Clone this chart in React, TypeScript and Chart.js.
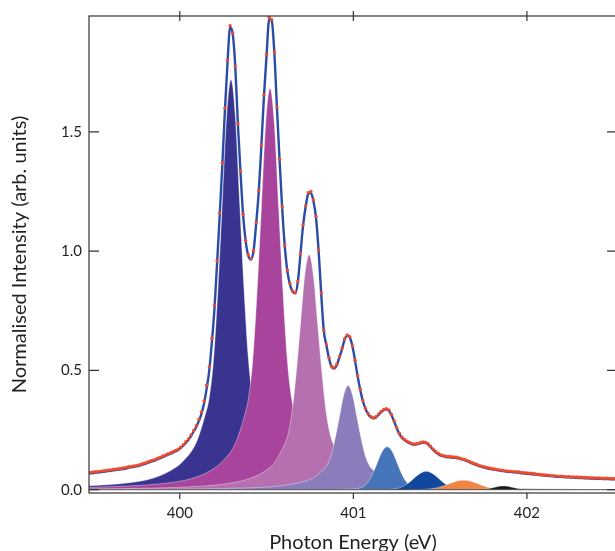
import React, { useEffect, useRef } from "react";
import { Chart, registerables } from "chart.js";

Chart.register(...registerables);

// Photon energy grid (eV)
const ENERGY = [
  399.48, 399.495, 399.51, 399.525, 399.54, 399.555, 399.57, 399.585, 399.6, 399.615,
  399.63, 399.645, 399.66, 399.675, 399.69, 399.705, 399.72, 399.735, 399.75, 399.765,
  399.78, 399.795, 399.81, 399.825, 399.84, 399.855, 399.87, 399.885, 399.9, 399.915,
  399.93, 399.945, 399.96, 399.975, 399.99, 400.005, 400.02, 400.035, 400.05, 400.065,
  400.08, 400.095, 400.11, 400.125, 400.14, 400.155, 400.17, 400.185, 400.2, 400.215,
  400.23, 400.245, 400.26, 400.275, 400.29, 400.305, 400.32, 400.335, 400.35, 400.365,
  400.38, 400.395, 400.41, 400.425, 400.44, 400.455, 400.47, 400.485, 400.5, 400.515,
  400.53, 400.545, 400.56, 400.575, 400.59, 400.605, 400.62, 400.635, 400.65, 400.665,
  400.68, 400.695, 400.71, 400.725, 400.74, 400.755, 400.77, 400.785, 400.8, 400.815,
  400.83, 400.845, 400.86, 400.875, 400.89, 400.905, 400.92, 400.935, 400.95, 400.965,
  400.98, 400.995, 401.01, 401.025, 401.04, 401.055, 401.07, 401.085, 401.1, 401.115,
  401.13, 401.145, 401.16, 401.175, 401.19, 401.205, 401.22, 401.235, 401.25, 401.265,
  401.28, 401.295, 401.31, 401.325, 401.34, 401.355, 401.37, 401.385, 401.4, 401.415,
  401.43, 401.445, 401.46, 401.475, 401.49, 401.505, 401.52, 401.535, 401.55, 401.565,
  401.58, 401.595, 401.61, 401.625, 401.64, 401.655, 401.67, 401.685, 401.7, 401.715,
  401.73, 401.745, 401.76, 401.775, 401.79, 401.805, 401.82, 401.835, 401.85, 401.865,
  401.88, 401.895, 401.91, 401.925, 401.94, 401.955, 401.97, 401.985, 402.0, 402.015,
  402.03, 402.045, 402.06, 402.075, 402.09, 402.105, 402.12, 402.135, 402.15, 402.165,
  402.18, 402.195, 402.21, 402.225, 402.24, 402.255, 402.27, 402.285, 402.3, 402.315,
  402.33, 402.345, 402.36, 402.375, 402.39, 402.405, 402.42, 402.435, 402.45, 402.465,
  402.48, 402.495, 402.51,
];

// Measured intensity (red dots)
const MEASURED = [
  0.072, 0.073, 0.075, 0.076, 0.077, 0.079, 0.08, 0.082, 0.083, 0.085,
  0.086, 0.088, 0.089, 0.091, 0.093, 0.096, 0.098, 0.1, 0.102, 0.104,
  0.108, 0.111, 0.115, 0.119, 0.123, 0.126, 0.131, 0.135, 0.14, 0.145,
  0.15, 0.154, 0.159, 0.165, 0.17, 0.178, 0.189, 0.201, 0.213, 0.23,
  0.248, 0.268, 0.295, 0.326, 0.372, 0.438, 0.515, 0.635, 0.775, 0.96,
  1.16, 1.37, 1.6, 1.8, 1.945, 1.915, 1.775, 1.535, 1.335, 1.155,
  1.045, 0.985, 0.968, 1.003, 1.12, 1.255, 1.445, 1.655, 1.825, 1.98,
  1.97, 1.835, 1.605, 1.385, 1.185, 1.025, 0.92, 0.864, 0.833, 0.826,
  0.873, 0.99, 1.11, 1.19, 1.245, 1.25, 1.215, 1.145, 1.005, 0.825,
  0.668, 0.608, 0.553, 0.518, 0.511, 0.526, 0.558, 0.593, 0.633, 0.649,
  0.641, 0.603, 0.543, 0.478, 0.421, 0.374, 0.342, 0.32, 0.307, 0.302,
  0.306, 0.317, 0.328, 0.336, 0.34, 0.334, 0.315, 0.289, 0.261, 0.237,
  0.221, 0.211, 0.203, 0.198, 0.193, 0.192, 0.194, 0.197, 0.2, 0.199,
  0.193, 0.182, 0.17, 0.16, 0.152, 0.146, 0.143, 0.14, 0.139, 0.138,
  0.137, 0.136, 0.133, 0.13, 0.127, 0.123, 0.118, 0.113, 0.109, 0.105,
  0.101, 0.098, 0.095, 0.092, 0.09, 0.088, 0.086, 0.084, 0.082, 0.081,
  0.079, 0.078, 0.077, 0.076, 0.075, 0.074, 0.072, 0.071, 0.07, 0.069,
  0.068, 0.067, 0.065, 0.064, 0.063, 0.062, 0.061, 0.06, 0.059, 0.058,
  0.057, 0.057, 0.056, 0.055, 0.055, 0.054, 0.054, 0.053, 0.052, 0.052,
  0.051, 0.051, 0.05, 0.05, 0.049, 0.049, 0.049, 0.048, 0.048, 0.048,
  0.047, 0.047, 0.047,
];

// Fitted envelope (blue line)
const FIT = [
  0.068, 0.069, 0.071, 0.072, 0.073, 0.075, 0.076, 0.078, 0.079, 0.081,
  0.082, 0.084, 0.085, 0.087, 0.089, 0.092, 0.094, 0.096, 0.098, 0.1,
  0.104, 0.107, 0.111, 0.115, 0.119, 0.122, 0.127, 0.131, 0.136, 0.141,
  0.146, 0.15, 0.155, 0.161, 0.166, 0.174, 0.185, 0.197, 0.209, 0.226,
  0.244, 0.263, 0.289, 0.318, 0.362, 0.425, 0.5, 0.62, 0.76, 0.95,
  1.15, 1.36, 1.59, 1.79, 1.938, 1.912, 1.77, 1.53, 1.33, 1.15,
  1.04, 0.98, 0.965, 1.0, 1.115, 1.25, 1.44, 1.65, 1.82, 1.972,
  1.965, 1.83, 1.6, 1.38, 1.18, 1.02, 0.915, 0.86, 0.83, 0.823,
  0.87, 0.985, 1.105, 1.185, 1.24, 1.245, 1.21, 1.14, 1.0, 0.82,
  0.665, 0.605, 0.55, 0.515, 0.508, 0.523, 0.555, 0.59, 0.63, 0.646,
  0.638, 0.6, 0.54, 0.475, 0.418, 0.371, 0.339, 0.317, 0.304, 0.299,
  0.303, 0.314, 0.325, 0.333, 0.337, 0.331, 0.312, 0.286, 0.258, 0.234,
  0.218, 0.208, 0.2, 0.195, 0.19, 0.189, 0.191, 0.194, 0.197, 0.196,
  0.19, 0.179, 0.167, 0.157, 0.149, 0.143, 0.14, 0.137, 0.136, 0.135,
  0.134, 0.133, 0.13, 0.127, 0.124, 0.12, 0.115, 0.11, 0.106, 0.102,
  0.098, 0.095, 0.092, 0.089, 0.087, 0.085, 0.083, 0.081, 0.079, 0.078,
  0.076, 0.075, 0.074, 0.073, 0.072, 0.071, 0.069, 0.068, 0.067, 0.066,
  0.065, 0.064, 0.062, 0.061, 0.06, 0.059, 0.058, 0.057, 0.056, 0.055,
  0.054, 0.054, 0.053, 0.052, 0.052, 0.051, 0.051, 0.05, 0.049, 0.049,
  0.048, 0.048, 0.047, 0.047, 0.046, 0.046, 0.046, 0.045, 0.045, 0.045,
  0.044, 0.044, 0.044,
];

// Fitted peak components
const P1_ENERGY = [399.47, 399.695, 399.845, 399.945, 400.02, 400.095, 400.145, 400.17, 400.195, 400.22, 400.245, 400.27, 400.295, 400.32, 400.345, 400.37, 400.395, 400.42, 400.445, 400.495, 400.57, 400.645, 400.745, 400.895, 401.195, 401.595, 402.095, 402.53];
const P1_INTENSITY = [0.016, 0.028, 0.048, 0.079, 0.12, 0.198, 0.31, 0.387, 0.55, 0.843, 1.204, 1.565, 1.72, 1.565, 1.204, 0.843, 0.55, 0.387, 0.31, 0.198, 0.12, 0.079, 0.048, 0.028, 0.0117, 0.0057, 0.0031, 0.0021];

const P2_ENERGY = [399.47, 399.92, 400.07, 400.17, 400.245, 400.32, 400.37, 400.395, 400.42, 400.445, 400.47, 400.495, 400.52, 400.545, 400.57, 400.595, 400.62, 400.645, 400.67, 400.72, 400.795, 400.87, 400.97, 401.12, 401.42, 401.82, 402.32, 402.53];
const P2_INTENSITY = [0.009, 0.027, 0.047, 0.077, 0.118, 0.194, 0.303, 0.379, 0.539, 0.825, 1.178, 1.532, 1.683, 1.532, 1.178, 0.825, 0.539, 0.379, 0.303, 0.194, 0.118, 0.077, 0.047, 0.027, 0.0114, 0.0056, 0.003, 0.0025];

const P3_ENERGY = [399.47, 399.845, 400.145, 400.295, 400.395, 400.47, 400.545, 400.595, 400.62, 400.645, 400.67, 400.695, 400.72, 400.745, 400.77, 400.795, 400.82, 400.845, 400.87, 400.895, 400.945, 401.02, 401.095, 401.195, 401.345, 401.645, 402.045, 402.53];
const P3_INTENSITY = [0.0034, 0.0067, 0.016, 0.028, 0.045, 0.069, 0.113, 0.177, 0.222, 0.316, 0.483, 0.69, 0.897, 0.986, 0.897, 0.69, 0.483, 0.316, 0.222, 0.177, 0.113, 0.069, 0.045, 0.028, 0.016, 0.0067, 0.0033, 0.0018];

const P4_ENERGY = [399.47, 399.67, 400.07, 400.37, 400.52, 400.62, 400.695, 400.77, 400.82, 400.845, 400.87, 400.895, 400.92, 400.945, 400.97, 400.995, 401.02, 401.045, 401.07, 401.095, 401.12, 401.17, 401.245, 401.32, 401.42, 401.57, 401.87, 402.27, 402.53];
const P4_INTENSITY = [0.0012, 0.0014, 0.003, 0.007, 0.012, 0.02, 0.031, 0.05, 0.079, 0.098, 0.14, 0.214, 0.306, 0.398, 0.437, 0.398, 0.306, 0.214, 0.14, 0.098, 0.079, 0.05, 0.031, 0.02, 0.012, 0.007, 0.003, 0.0014, 0.0011];

const P5_ENERGY = [399.47, 400.195, 400.695, 400.895, 400.995, 401.045, 401.07, 401.095, 401.12, 401.145, 401.17, 401.195, 401.22, 401.245, 401.27, 401.295, 401.32, 401.345, 401.395, 401.495, 401.695, 402.195, 402.53];
const P5_INTENSITY = [0.0001, 0.0001, 0.0004, 0.0011, 0.0027, 0.009, 0.02, 0.044, 0.081, 0.126, 0.165, 0.18, 0.165, 0.126, 0.081, 0.044, 0.02, 0.009, 0.0027, 0.0011, 0.0004, 0.0001, 0.0001];

const P6_ENERGY = [400.92, 401.12, 401.17, 401.22, 401.245, 401.27, 401.295, 401.32, 401.345, 401.37, 401.395, 401.42, 401.445, 401.47, 401.495, 401.52, 401.545, 401.57, 401.595, 401.62, 401.67, 401.72, 401.92];
const P6_INTENSITY = [0.0001, 0.0003, 0.0005, 0.0017, 0.0041, 0.0089, 0.0172, 0.0295, 0.0449, 0.0606, 0.0724, 0.077, 0.0724, 0.0606, 0.0449, 0.0295, 0.0172, 0.0089, 0.0041, 0.0017, 0.0005, 0.0003, 0.0001];

const P7_ENERGY = [401.335, 401.385, 401.435, 401.46, 401.485, 401.51, 401.535, 401.56, 401.585, 401.61, 401.635, 401.66, 401.685, 401.71, 401.735, 401.76, 401.785, 401.81, 401.835, 401.885, 401.935];
const P7_INTENSITY = [0.0001, 0.0005, 0.0025, 0.0048, 0.0084, 0.0136, 0.02, 0.0272, 0.0336, 0.0386, 0.04, 0.0386, 0.0336, 0.0272, 0.02, 0.0136, 0.0084, 0.0048, 0.0025, 0.0005, 0.0001];

const P8_ENERGY = [401.665, 401.715, 401.74, 401.765, 401.79, 401.815, 401.84, 401.865, 401.89, 401.915, 401.94, 401.965, 401.99, 402.015, 402.065];
const P8_INTENSITY = [0, 0.0004, 0.0012, 0.003, 0.0064, 0.0106, 0.0144, 0.016, 0.0144, 0.0106, 0.0064, 0.003, 0.0012, 0.0004, 0];

const PEAK_COLORS = ["#3a3491", "#a8449b", "#b571af", "#8b7cbc", "#4574b9", "#11489d", "#f08646", "#1a1a1a"];

const X_TICKS = [400, 401, 402];
const Y_TICKS = [0, 0.5, 1.0, 1.5];
const X_RANGE = [399.477, 402.519];
const Y_RANGE = [-0.0138, 1.986];
const X_TITLE = "Photon Energy (eV)";
const Y_TITLE = "Normalised Intensity (arb. units)";

const FONT = "Lato, 'Open Sans', sans-serif";
const TEXT = "#231f20";

function zip(xs: number[], ys: number[]) {
  return xs.map((x, i) => ({ x, y: ys[i] }));
}

const framePlugin = {
  id: "frame",
  afterDatasetsDraw(chart: any) {
    const { ctx, chartArea } = chart;
    const y0 = chart.scales.y.getPixelForValue(0);
    ctx.save();
    ctx.strokeStyle = "#555";
    ctx.lineWidth = 1;
    ctx.beginPath();
    ctx.moveTo(chartArea.left, y0);
    ctx.lineTo(chartArea.right, y0);
    ctx.stroke();
    ctx.restore();
  },
  afterDraw(chart: any) {
    const { ctx, chartArea } = chart;
    const { left, right, top, bottom } = chartArea;
    const xs = chart.scales.x;
    const ys = chart.scales.y;
    ctx.save();
    ctx.strokeStyle = "#333";
    ctx.lineWidth = 1.2;
    ctx.strokeRect(left, top, right - left, bottom - top);
    ctx.beginPath();
    for (const v of Y_TICKS) {
      const py = ys.getPixelForValue(v);
      ctx.moveTo(left, py);
      ctx.lineTo(left + 10, py);
      ctx.moveTo(right - 10, py);
      ctx.lineTo(right, py);
    }
    for (const v of X_TICKS) {
      const px = xs.getPixelForValue(v);
      ctx.moveTo(px, top - 5);
      ctx.lineTo(px, top + 5);
      ctx.moveTo(px, bottom);
      ctx.lineTo(px, bottom + 6);
    }
    ctx.stroke();
    ctx.restore();
  },
};

export default function App() {
  const ref = useRef<HTMLCanvasElement | null>(null);

  useEffect(() => {
    const canvas = ref.current;
    if (!canvas) return;
    const peaks = [
      [P1_ENERGY, P1_INTENSITY],
      [P2_ENERGY, P2_INTENSITY],
      [P3_ENERGY, P3_INTENSITY],
      [P4_ENERGY, P4_INTENSITY],
      [P5_ENERGY, P5_INTENSITY],
      [P6_ENERGY, P6_INTENSITY],
      [P7_ENERGY, P7_INTENSITY],
      [P8_ENERGY, P8_INTENSITY],
    ];
    const peakSets = peaks.map(([e, v], i) => ({
      label: "Peak " + (i + 1),
      data: zip(e as number[], v as number[]),
      backgroundColor: PEAK_COLORS[i],
      borderColor: "rgba(255,255,255,0.55)",
      borderWidth: 0.7,
      pointRadius: 0,
      fill: "origin",
      cubicInterpolationMode: "monotone",
      order: 10 - i,
    }));
    const chart = new Chart(canvas, {
      type: "line",
      data: {
        datasets: [
          {
            label: "Data",
            data: zip(ENERGY, MEASURED),
            showLine: false,
            pointRadius: 1.7,
            pointBorderWidth: 0,
            pointBackgroundColor: "#ef4a2b",
            borderColor: "#ef4a2b",
            order: 0,
          } as any,
          {
            label: "Fit",
            data: zip(ENERGY, FIT),
            borderColor: "#2a4ca6",
            borderWidth: 2.4,
            pointRadius: 0,
            fill: false,
            cubicInterpolationMode: "monotone",
            order: 1,
          },
          ...peakSets,
        ],
      },
      options: {
        responsive: false,
        animation: false,
        events: [],
        layout: { padding: { left: 0, right: 3, top: 13, bottom: 0 }, autoPadding: false },
        plugins: { legend: { display: false }, tooltip: { enabled: false } },
        scales: {
          x: {
            type: "linear",
            min: X_RANGE[0],
            max: X_RANGE[1],
            grid: { display: false, drawTicks: false },
            border: { display: false },
            ticks: {
              font: { family: FONT, size: 15 },
              color: TEXT,
              padding: 11.5,
              maxRotation: 0,
              callback: (v: any) => String(v),
            },
            afterBuildTicks: (s: any) => {
              s.ticks = X_TICKS.map((v) => ({ value: v }));
            },
            afterFit: (s: any) => {
              s.height = 58;
            },
            title: {
              display: true,
              text: X_TITLE,
              font: { family: FONT, size: 20 },
              color: TEXT,
              padding: { top: 0, bottom: -4 },
            },
          },
          y: {
            type: "linear",
            min: Y_RANGE[0],
            max: Y_RANGE[1],
            grid: { display: false, drawTicks: false },
            border: { display: false },
            ticks: {
              font: { family: FONT, size: 15 },
              color: TEXT,
              padding: 7,
              callback: (v: any) => Number(v).toFixed(1),
            },
            afterBuildTicks: (s: any) => {
              s.ticks = Y_TICKS.map((v) => ({ value: v }));
            },
            afterFit: (s: any) => {
              s.width = 89;
            },
            title: {
              display: true,
              text: Y_TITLE,
              font: { family: FONT, size: 20 },
              color: TEXT,
              padding: { top: 7.8, bottom: 0 },
            },
          },
        },
      } as any,
      plugins: [framePlugin],
    });
    return () => chart.destroy();
  }, []);

  return (
    <div
      style={{
        position: "fixed",
        left: 0,
        top: 0,
        width: 615,
        height: 551,
        overflow: "hidden",
        background: "#fff",
      }}
    >
      <canvas ref={ref} width={620} height={551} style={{ display: "block" }} />
    </div>
  );
}
